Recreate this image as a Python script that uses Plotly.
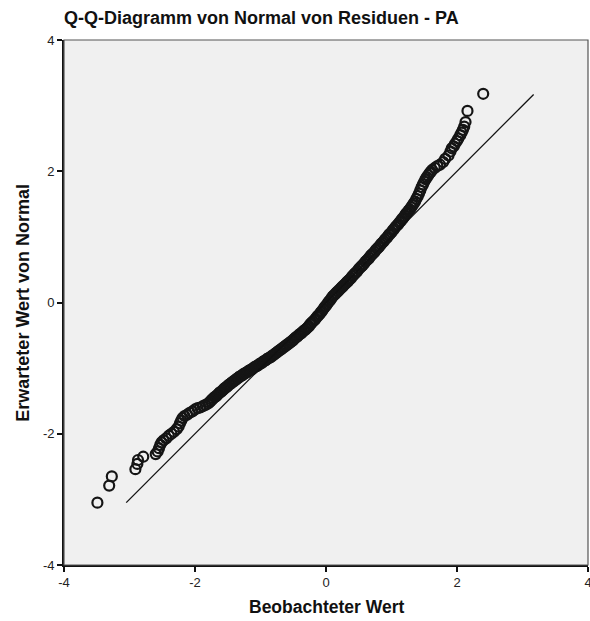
import plotly.graph_objects as go

obs = [
    -3.49, -3.31, -3.27, -2.91, -2.88, -2.87, -2.79, -2.60, -2.57,
    -2.55, -2.53, -2.51, -2.48, -2.44, -2.40, -2.36, -2.32, -2.28, -2.25, -2.23, -2.21, -2.19, -2.16,
    -2.12, -2.08, -2.04, -2.00, -1.96, -1.92, -1.88, -1.84, -1.80,
    -1.78, -1.76, -1.74, -1.72, -1.70, -1.68, -1.66, -1.64, -1.62, -1.60, -1.58, -1.56,
    -1.54, -1.52, -1.50, -1.48, -1.46, -1.44, -1.42, -1.40, -1.38, -1.36, -1.34, -1.32, -1.30,
    -1.28, -1.26, -1.24, -1.22, -1.20, -1.18, -1.16, -1.14, -1.12, -1.10, -1.08, -1.06,
    -1.04, -1.02, -1.00, -0.98, -0.96, -0.94, -0.92, -0.90, -0.88, -0.86, -0.84, -0.82, -0.80,
    -0.78, -0.76, -0.74, -0.72, -0.70, -0.68, -0.66, -0.64, -0.62, -0.60, -0.58, -0.56, -0.54,
    -0.52, -0.50, -0.48, -0.46, -0.44, -0.42, -0.40, -0.38, -0.36, -0.34, -0.32, -0.30,
    -0.28, -0.26, -0.24, -0.22, -0.20, -0.18, -0.16, -0.14, -0.12, -0.10,
    -0.08, -0.06, -0.04, -0.02, 0.00, 0.02, 0.04, 0.06, 0.08, 0.10,
    0.12, 0.14, 0.16, 0.18, 0.20, 0.22, 0.24, 0.26, 0.28, 0.30, 0.32, 0.34, 0.36,
    0.38, 0.40, 0.42, 0.44, 0.46, 0.48, 0.50, 0.52, 0.54, 0.56, 0.58, 0.60, 0.62,
    0.64, 0.66, 0.68, 0.70, 0.72, 0.74, 0.76, 0.78, 0.80, 0.82, 0.84, 0.86,
    0.88, 0.90, 0.92, 0.94, 0.96, 0.98, 1.00, 1.02, 1.04, 1.06, 1.08, 1.10, 1.12,
    1.14, 1.16, 1.18, 1.20, 1.22, 1.24, 1.26, 1.28, 1.30, 1.32, 1.34, 1.36,
    1.38, 1.40, 1.42, 1.44, 1.46, 1.48, 1.50, 1.52, 1.54, 1.56, 1.58, 1.60, 1.62, 1.66, 1.70,
    1.74, 1.79, 1.82, 1.87, 1.90, 1.92, 1.95, 1.97, 2.00, 2.02, 2.05, 2.07, 2.09, 2.11, 2.13, 2.16, 2.40,
]
expected = [
    -3.05, -2.79, -2.65, -2.54, -2.46, -2.40, -2.35, -2.31, -2.27,
    -2.22, -2.17, -2.13, -2.10, -2.07, -2.03, -2.00, -1.97, -1.93, -1.89, -1.84, -1.80, -1.76, -1.73,
    -1.71, -1.68, -1.66, -1.63, -1.61, -1.60, -1.58, -1.56, -1.54,
    -1.52, -1.50, -1.48, -1.46, -1.44, -1.43, -1.41, -1.39, -1.37, -1.36, -1.34, -1.32,
    -1.30, -1.29, -1.27, -1.25, -1.24, -1.22, -1.21, -1.19, -1.18, -1.16, -1.15, -1.13, -1.12,
    -1.11, -1.09, -1.08, -1.07, -1.06, -1.04, -1.03, -1.02, -1.01, -0.99, -0.98, -0.97,
    -0.96, -0.94, -0.93, -0.92, -0.90, -0.89, -0.88, -0.86, -0.85, -0.84, -0.83, -0.81, -0.80,
    -0.78, -0.77, -0.75, -0.74, -0.72, -0.71, -0.69, -0.68, -0.66, -0.65, -0.63, -0.62, -0.60,
    -0.59, -0.57, -0.55, -0.53, -0.52, -0.50, -0.48, -0.47, -0.45, -0.43, -0.42, -0.40,
    -0.38, -0.36, -0.33, -0.31, -0.29, -0.27, -0.25, -0.22, -0.20, -0.18,
    -0.15, -0.13, -0.10, -0.07, -0.05, -0.02, 0.01, 0.03, 0.06, 0.09,
    0.11, 0.13, 0.15, 0.17, 0.19, 0.21, 0.23, 0.25, 0.27, 0.29, 0.31, 0.33, 0.35,
    0.37, 0.40, 0.42, 0.44, 0.46, 0.48, 0.51, 0.53, 0.55, 0.57, 0.59, 0.62, 0.64,
    0.66, 0.68, 0.71, 0.73, 0.75, 0.77, 0.80, 0.82, 0.84, 0.86, 0.89, 0.91,
    0.93, 0.96, 0.98, 1.00, 1.03, 1.05, 1.07, 1.10, 1.12, 1.15, 1.17, 1.19, 1.22,
    1.24, 1.27, 1.29, 1.32, 1.35, 1.37, 1.40, 1.42, 1.45, 1.48, 1.51, 1.54,
    1.58, 1.62, 1.66, 1.71, 1.76, 1.80, 1.84, 1.88, 1.91, 1.94, 1.97, 1.99, 2.02, 2.05, 2.08,
    2.10, 2.14, 2.19, 2.24, 2.30, 2.35, 2.38, 2.42, 2.46, 2.50, 2.55, 2.59, 2.63, 2.68, 2.75, 2.92, 3.18,
]

# Reference (diagonal) line endpoints
ref_x = [-3.05, 3.17]
ref_y = [-3.05, 3.17]

tick_vals = [-4, -2, 0, 2, 4]
tick_text = ["-4", "-2", "0", "2", "4"]

title_text = "Q-Q-Diagramm von Normal von Residuen - PA"
x_title = "Beobachteter Wert"
y_title = "Erwarteter Wert von Normal"

FONT = "Liberation Sans, Arial, sans-serif"

fig = go.Figure()
fig.add_trace(go.Scatter(
    x=obs, y=expected, mode="markers",
    marker=dict(symbol="circle-open", size=10, color="#151515", line=dict(width=2.2, color="#151515")),
    showlegend=False, hoverinfo="x+y",
))
fig.add_trace(go.Scatter(
    x=ref_x, y=ref_y, mode="lines",
    line=dict(color="#111111", width=1.3),
    showlegend=False, hoverinfo="skip",
))

axis_common = dict(
    range=[-4, 4], tickvals=tick_vals, ticktext=tick_text,
    showgrid=False, zeroline=False,
    ticks="outside", ticklen=5, tickwidth=1.5, tickcolor="#111111",
    showline=True, linecolor="#111111", linewidth=1.6, mirror=False,
    ticklabeloverflow="allow", automargin=False,
    tickfont=dict(family=FONT, size=13, color="#222222"),
)

fig.update_layout(
    width=590, height=621,
    margin=dict(l=64, r=2, t=40, b=56, autoexpand=False),
    paper_bgcolor="white", plot_bgcolor="#f0f0f0",
    xaxis=dict(**axis_common),
    yaxis=dict(**axis_common),
    title=dict(
        text="<b>" + title_text + "</b>",
        x=0, xref="paper", xanchor="left",
        y=1 - 18 / 621, yref="container", yanchor="middle",
        font=dict(family=FONT, size=18, color="#111111"),
    ),
    shapes=[dict(
        type="rect", xref="paper", yref="paper", x0=0, x1=1, y0=0, y1=1,
        line=dict(color="#555555", width=1.2), fillcolor="rgba(0,0,0,0)", layer="above",
    )],
    annotations=[
        dict(text="<b>" + x_title + "</b>", xref="paper", yref="paper",
             x=0.5, y=-(607 - 565) / 525, xanchor="center", yanchor="middle", showarrow=False,
             font=dict(family=FONT, size=17.5, color="#111111")),
        dict(text="<b>" + y_title + "</b>", xref="paper", yref="paper",
             x=(22 - 64) / 526, y=0.5, xanchor="center", yanchor="middle", showarrow=False,
             textangle=-90,
             font=dict(family=FONT, size=18, color="#111111")),
    ],
)

fig.write_html("out.html")
